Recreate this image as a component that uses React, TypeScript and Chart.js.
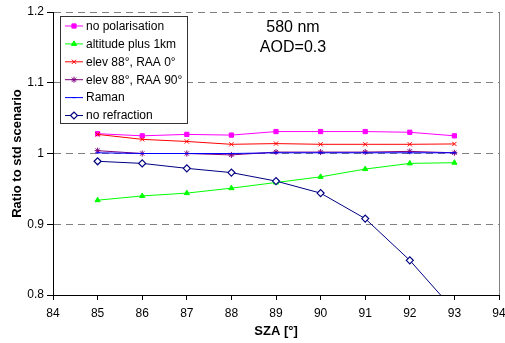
import React, { useEffect, useRef } from "react";
import { Chart, registerables } from "chart.js";
import { drawPoint } from "chart.js/helpers";

Chart.register(...registerables);

const sza = [85, 86, 87, 88, 89, 90, 91, 92, 93];
const noPolarisation = [1.028, 1.025, 1.027, 1.026, 1.031, 1.031, 1.031, 1.030, 1.025];
const altitudePlus1km = [0.934, 0.940, 0.944, 0.951, 0.959, 0.967, 0.978, 0.986, 0.987];
const elev88Raa0 = [1.027, 1.020, 1.017, 1.013, 1.014, 1.013, 1.013, 1.013, 1.0135];
const elev88Raa90 = [1.004, 1.000, 1.000, 0.998, 1.002, 1.002, 1.002, 1.003, 1.001];
const raman = [1.001, 1.000, 1.000, 1.000, 1.001, 1.001, 1.001, 1.001, 1.001];
const noRefraction = [0.989, 0.986, 0.979, 0.973, 0.961, 0.944, 0.908, 0.849, 0.778];

const seriesNames = [
  "no polarisation",
  "altitude plus 1km",
  "elev 88°, RAA 0°",
  "elev 88°, RAA 90°",
  "Raman",
  "no refraction",
];
const annotationLines = ["580 nm", "AOD=0.3"];
const xTitle = "SZA [°]";
const yTitle = "Ratio to std scenario";

const FONT = "'Liberation Sans', Arial, sans-serif";

const legendAndTextPlugin = {
  id: "legendAndText",
  afterDatasetsDraw(chart: any) {
    const ctx = chart.ctx;
    ctx.save();
    // annotation text
    ctx.fillStyle = "#000";
    ctx.font = `16px ${FONT}`;
    ctx.textAlign = "center";
    ctx.textBaseline = "alphabetic";
    ctx.fillText(annotationLines[0], 293, 32);
    ctx.fillText(annotationLines[1], 293, 52);

    // legend box
    const bx = 60.5, by = 16.5, bw = 127, bh = 107;
    ctx.fillStyle = "#fff";
    ctx.fillRect(bx, by, bw, bh);
    ctx.strokeStyle = "#333";
    ctx.lineWidth = 1;
    ctx.strokeRect(bx, by, bw, bh);

    const datasets = chart.data.datasets;
    ctx.font = `12px ${FONT}`;
    ctx.textAlign = "left";
    ctx.textBaseline = "middle";
    datasets.forEach((ds: any, i: number) => {
      const y = 26 + i * 17.9;
      ctx.save();
      ctx.strokeStyle = ds.borderColor;
      ctx.lineWidth = ds.borderWidth;
      ctx.beginPath();
      ctx.moveTo(65, y);
      ctx.lineTo(83, y);
      ctx.stroke();
      ctx.fillStyle = ds.pointBackgroundColor;
      ctx.strokeStyle = ds.pointBorderColor;
      ctx.lineWidth = ds.pointBorderWidth;
      drawPoint(ctx, { pointStyle: ds.pointStyle, radius: ds.pointRadius, rotation: 0, borderWidth: ds.pointBorderWidth }, 74, y);
      ctx.restore();
      ctx.fillStyle = "#000";
      ctx.fillText(ds.label, 86, y + 0.5);
    });
    ctx.restore();
  },
};

function mk(label: string, values: number[], color: string, style: string, radius: number, bg?: string, pbw = 1) {
  return {
    label,
    data: values.map((v, i) => ({ x: sza[i], y: v })),
    borderColor: color,
    backgroundColor: color,
    borderWidth: 1,
    pointStyle: style,
    pointRadius: radius,
    pointBackgroundColor: bg ?? color,
    pointBorderColor: color,
    pointBorderWidth: pbw,
    tension: 0,
    clip: 0,
  };
}

export default function App() {
  const ref = useRef<HTMLCanvasElement>(null);
  useEffect(() => {
    if (!ref.current) return;
    const datasets = [
      mk(seriesNames[0], noPolarisation, "#FF00FF", "rect", 3),
      mk(seriesNames[1], altitudePlus1km, "#00FF00", "triangle", 3),
      mk(seriesNames[2], elev88Raa0, "#FF0000", "crossRot", 3),
      mk(seriesNames[3], elev88Raa90, "#800080", "star", 3),
      mk(seriesNames[4], raman, "#0000FF", "line", 2),
      mk(seriesNames[5], noRefraction, "#000080", "rectRot", 3.5, "#FFFFFF", 1.2),
    ].map((d, i, arr) => ({ ...d, order: arr.length - i }));

    const chart = new Chart(ref.current, {
      type: "line",
      data: { datasets: datasets as any },
      options: {
        animation: false,
        responsive: true,
        maintainAspectRatio: false,
        layout: { padding: { top: 12, right: 6, left: 0, bottom: 0 } },
        plugins: { legend: { display: false }, tooltip: { enabled: false }, title: { display: false } },
        scales: {
          x: {
            type: "linear",
            min: 84,
            max: 94,
            ticks: { stepSize: 1, color: "#000", font: { family: FONT, size: 12 }, padding: 6, maxRotation: 0 },
            grid: {
              color: (c: any) => (c.tick && c.tick.value === 94 ? "#808080" : "rgba(0,0,0,0)"),
              tickColor: "#000",
              tickLength: 5,
              lineWidth: 1,
            },
            border: { color: "#000", width: 1 },
            title: { display: true, text: xTitle, color: "#000", font: { family: FONT, size: 13, weight: "bold" }, padding: { top: 0, bottom: 4 } },
            afterFit: (s: any) => {
              s.height = 48;
              s.paddingLeft = 0;
              s.paddingRight = 0;
            },
          },
          y: {
            type: "linear",
            min: 0.8,
            max: 1.2,
            ticks: {
              stepSize: 0.1,
              color: "#000",
              font: { family: FONT, size: 12 },
              padding: 3,
              callback: (v: any) => String(Number(Number(v).toFixed(1))),
            },
            grid: {
              color: (c: any) => (c.tick && Math.abs(c.tick.value - 0.8) < 1e-6 ? "rgba(0,0,0,0)" : "#808080"),
              tickColor: "#000",
              tickLength: 6,
              lineWidth: 1,
            },
            border: { color: "#000", width: 1, dash: [7, 5] },
            title: { display: true, text: yTitle, color: "#000", font: { family: FONT, size: 13, weight: "bold" }, padding: { top: 10, bottom: 0 } },
            afterFit: (s: any) => {
              s.width = 53;
              s.paddingTop = 0;
              s.paddingBottom = 0;
            },
          },
        },
      },
      plugins: [legendAndTextPlugin],
    });
    return () => chart.destroy();
  }, []);

  return (
    <div style={{ position: "fixed", left: 0, top: 0, width: 505, height: 343, background: "#fff" }}>
      <canvas ref={ref} />
    </div>
  );
}
